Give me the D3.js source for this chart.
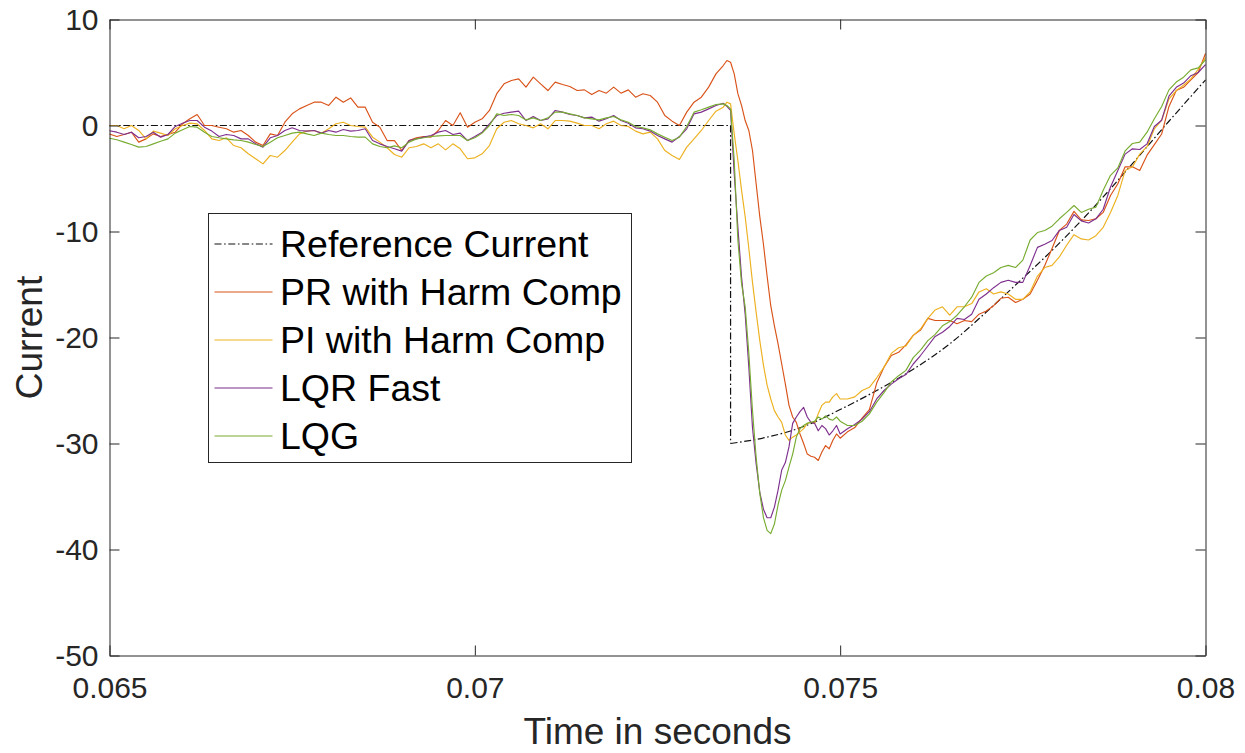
<!DOCTYPE html>
<html>
<head>
<meta charset="utf-8">
<script src="https://cdn.jsdelivr.net/npm/d3@7"></script>
<style>
  body { margin: 0; background: #fff; }
  svg { display: block; }
</style>
</head>
<body>
<div id="container"></div>
<script>
// sample times (s); finer spacing around the step at 0.0735
let time = [
  0.0650, 0.0651, 0.0652, 0.0653, 0.0654, 0.0655, 0.0656, 0.0657, 0.0658, 0.0659,
  0.0660, 0.0661, 0.0662, 0.0663, 0.0664, 0.0665, 0.0666, 0.0667, 0.0668, 0.0669,
  0.0670, 0.0671, 0.0672, 0.0673, 0.0674, 0.0675, 0.0676, 0.0677, 0.0678, 0.0679,
  0.0680, 0.0681, 0.0682, 0.0683, 0.0684, 0.0685, 0.0686, 0.0687, 0.0688, 0.0689,
  0.0690, 0.0691, 0.0692, 0.0693, 0.0694, 0.0695, 0.0696, 0.0697, 0.0698, 0.0699,
  0.0700, 0.0701, 0.0702, 0.0703, 0.0704, 0.0705, 0.0706, 0.0707, 0.0708, 0.0709,
  0.0710, 0.0711, 0.0712, 0.0713, 0.0714, 0.0715, 0.0716, 0.0717, 0.0718, 0.0719,
  0.0720, 0.0721, 0.0722, 0.0723, 0.0724, 0.0725, 0.0726, 0.0727, 0.0728, 0.0729,
  0.0730, 0.0731, 0.0732, 0.0733, 0.0734,
  0.07345, 0.0735, 0.07355, 0.0736, 0.07365, 0.0737, 0.07375, 0.0738, 0.07385, 0.0739,
  0.07395, 0.0740, 0.07405, 0.0741, 0.07415, 0.0742, 0.07425, 0.0743, 0.07435, 0.0744,
  0.07445, 0.0745, 0.07455, 0.0746, 0.07465, 0.0747, 0.07475, 0.0748, 0.07485, 0.0749,
  0.07495, 0.0750,
  0.0751, 0.0752, 0.0753, 0.0754, 0.0755, 0.0756, 0.0757, 0.0758, 0.0759, 0.0760,
  0.0761, 0.0762, 0.0763, 0.0764, 0.0765, 0.0766, 0.0767, 0.0768, 0.0769, 0.0770,
  0.0771, 0.0772, 0.0773, 0.0774, 0.0775, 0.0776, 0.0777, 0.0778, 0.0779, 0.0780,
  0.0781, 0.0782, 0.0783, 0.0784, 0.0785, 0.0786, 0.0787, 0.0788, 0.0789, 0.0790,
  0.0791, 0.0792, 0.0793, 0.0794, 0.0795, 0.0796, 0.0797, 0.0798, 0.0799, 0.0800
];

let prCurrent = [
  -0.8, -1.04, -0.85, -0.63, -1.57, -1.26, -0.79, -1.04, -0.85, -0.63,
  0.16, 0.63, 1.04, 0, 0, -0.16, -0.31, -0.63, -0.47, -0.94,
  -1.57, -1.89, -0.79, -0.94, 0.31, 1.1, 1.57, 1.89, 2.2, 2.2,
  1.89, 2.67, 2.2, 2.6, 1.73, 1.73, 0.31, -0.16, -1.42, -1.42,
  -2.36, -1.42, -1.16, -1.04, -1.1, -0.47, 0.47, 0, 1.2, -0.16,
  0.31, 0.63, 1.42, 3.0, 3.93, 4.25, 4.4, 3.62, 4.56, 3.93,
  3.3, 4.09, 3.87, 3.68, 3.3, 3.36, 2.92, 3.3, 3.05, 3.62,
  3.05, 3.36, 2.67, 2.99, 2.83, 2.2, 0.94, 0.41, 0, 1.26,
  2.2, 2.67, 3.62, 4.87, 5.66,
  6.13, 5.97, 4.87, 3.0, 1.9, 0.47, -0.47, -2.36, -5.5, -8.6,
  -11.2, -14.2, -17.0, -18.9, -20.6, -22.5, -24.4, -26.4, -27.5, -28.0,
  -29.1, -30.0, -31.0, -31.2, -31.3, -31.6, -30.8, -30.2, -30.5, -29.7,
  -29.1, -29.5,
  -28.9, -28.5, -27.6, -26.8, -24.3, -22.8, -21.7, -21.4, -20.7, -19.8,
  -19.3, -18.2, -18.4, -18.4, -18.4, -18.7, -18.4, -18.5, -17.8, -17.5,
  -17.0, -16.3, -16.2, -16.7, -16.4, -15.9, -14.6, -13.2, -11.6, -9.9,
  -9.3, -8.1, -8.9, -8.96, -8.8, -8.2, -6.6, -5.5, -3.9, -3.9,
  -4.25, -2.8, -1.8, -0.8, 1.8, 3.3, 3.6, 4.3, 5.0, 6.8
];

let piCurrent = [
  0, 0, -0.31, 0, -0.47, -1.26, -0.53, -0.72, -0.94, -0.31,
  0, 0.22, 0.16, -0.47, -1.26, -1.42, -1.16, -1.89, -2.1, -2.67,
  -3.14, -3.62, -2.83, -2.99, -2.36, -1.57, -0.79, -0.53, -0.47, -0.72,
  -0.31, 0.16, 0.31, 0, -0.09, -0.16, -1.1, -1.57, -2.1, -2.74,
  -2.99, -2.1, -1.98, -1.73, -2.1, -1.73, -2.3, -1.73, -2.2, -3.14,
  -3.05, -2.67, -1.89, -0.31, 0.31, 0.47, 0.16, 0, -0.22, 0.16,
  -0.31, 0.47, 0.47, 0.41, 0.22, 0, 0, -0.31, 0.16, 0.41,
  0, -0.09, -0.53, -0.79, -0.63, -1.26, -2.36, -2.83, -3.2, -2.04,
  -1.26, -0.47, 0.47, 1.35, 1.73,
  2.2, 2.04, -0.79, -3.3, -6.1, -8.6, -11.6, -14.8, -17.6, -20.3,
  -22.6, -24.5, -25.8, -26.9, -27.5, -28.0, -29.2, -29.7, -29.4, -29.2,
  -28.9, -28.6, -28.1, -28.0, -28.1, -27.2, -26.4, -26.1, -26.1, -25.6,
  -25.3, -25.8,
  -25.8, -25.6, -25.0, -24.7, -23.8, -22.8, -21.5, -20.97, -20.8, -19.8,
  -19.2, -18.2, -17.4, -17.1, -17.9, -17.1, -17.1, -16.8, -15.7, -15.4,
  -15.9, -15.7, -15.9, -16.4, -16.4, -15.7, -14.2, -13.4, -13.2, -12.4,
  -11.3, -10.3, -10.7, -10.8, -10.4, -9.6, -8.2, -6.6, -4.25, -3.9,
  -2.7, -2.0, -0.31, 0.5, 2.5, 3.3, 3.8, 4.4, 5.3, 6.4
];

let lqrCurrent = [
  -0.5, -0.63, -0.85, -0.63, -1.16, -1.04, -0.63, -1.1, -0.85, -0.09,
  0.22, 0.47, 0.47, -0.16, -0.53, -1.04, -0.85, -0.94, -1.26, -1.26,
  -1.73, -2.04, -1.16, -0.94, -0.47, -0.22, -0.47, -0.53, -0.47, -0.72,
  -0.47, -0.63, -0.38, -0.53, -0.47, -0.31, -1.42, -1.73, -1.98, -2.2,
  -2.42, -1.42, -1.26, -1.1, -0.94, -0.63, -0.47, -0.85, -0.72, -1.42,
  -1.04, -0.63, 0.16, 0.94, 1.16, 1.26, 1.35, 0.47, 0.85, 0.47,
  0.63, 1.42, 1.26, 1.04, 0.94, 0.72, 0.79, 0.41, 0.63, 0.94,
  0.47, 0.22, -0.22, -0.31, -0.53, -0.94, -1.26, -1.57, -1.04, -0.31,
  1.1, 1.26, 1.57, 1.89, 2.1,
  1.8, 1.42, -4.56, -9.6, -14.3, -17.8, -22.8, -28.5, -31.9, -34.6,
  -36.2, -37.0, -37.0, -36.0, -34.4, -32.5, -31.8, -30.3, -28.1, -27.5,
  -27.0, -26.6, -27.5, -28.0, -28.1, -28.8, -28.3, -28.6, -29.2, -28.8,
  -28.3, -29.1,
  -28.6, -28.2, -27.7, -27.0, -25.8, -25.0, -24.4, -23.9, -23.5, -22.5,
  -21.7, -20.8, -19.9, -19.5, -18.96, -18.2, -18.3, -17.8, -16.4, -15.9,
  -15.3, -14.8, -14.6, -14.8, -14.8, -13.2, -11.5, -11.2, -10.85, -9.9,
  -9.6, -8.4, -9.0, -9.2, -8.8, -7.9, -5.8, -4.25, -2.7, -2.2,
  -2.26, -1.73, -0.09, 0.5, 2.77, 3.6, 4.0, 4.7, 5.0, 5.75
];

let lqgCurrent = [
  -1.2, -1.35, -1.57, -1.79, -2.04, -1.98, -1.73, -1.48, -1.26, -0.72,
  -0.41, -0.09, -0.16, -0.63, -1.04, -1.16, -1.26, -1.35, -1.42, -1.57,
  -1.79, -1.98, -1.57, -1.16, -0.94, -0.72, -0.63, -0.79, -0.94, -0.72,
  -0.85, -0.94, -0.94, -1.04, -1.1, -1.1, -1.73, -1.98, -2.1, -1.92,
  -2.1, -1.57, -1.26, -1.16, -1.04, -0.98, -0.94, -0.94, -0.94, -1.42,
  -1.16, -0.72, 0, 1.1, 0.94, 1.04, 0.94, 0.53, 0.72, 0.47,
  0.72, 1.26, 1.26, 1.1, 0.94, 0.72, 0.63, 0.53, 0.72, 0.85,
  0.53, 0.31, -0.09, -0.22, -0.41, -0.79, -1.1, -1.42, -1.1, -0.09,
  1.26, 1.48, 1.73, 1.98, 2.04,
  1.89, 1.57, -3.3, -10.8, -14.9, -17.1, -21.5, -26.9, -31.3, -34.7,
  -37.0, -38.2, -38.5, -37.6, -35.8, -34.4, -33.5, -32.2, -31.0, -29.4,
  -28.6, -28.3, -28.1, -28.0, -27.9, -27.5, -27.7, -27.4, -27.7, -27.8,
  -27.5, -27.9,
  -28.3, -28.3, -27.9, -27.2, -26.1, -25.2, -24.2, -23.6, -23.1, -21.9,
  -21.2, -20.3, -19.7, -18.9, -18.5, -17.9, -17.1, -16.2, -14.8, -14.2,
  -13.9, -13.4, -13.2, -13.4, -12.7, -10.8, -10.1, -9.9, -9.5, -8.8,
  -8.2, -7.55, -8.2, -7.9, -7.7, -6.1, -4.7, -4.0, -2.4, -1.7,
  -1.57, -0.63, 0.63, 1.8, 3.36, 4.1, 4.56, 5.25, 5.44, 6.2
];

// reference: flat at 0, steps to -30 at 0.0735, then rises smoothly
let refStepTime = [0.065, 0.0735, 0.0735];
let refStepCurrent = [0, 0, -30];
let refTime = [0.0735, 0.074, 0.0745, 0.075, 0.0755, 0.076, 0.0765,
  0.077, 0.0775, 0.078, 0.0785, 0.079, 0.0795, 0.08];
let refCurrent = [-30, -29.4, -28.4, -26.8, -25.0, -23.0, -20.6,
  -17.6, -14.4, -11.1, -7.5, -3.6, 0.4, 4.3];

let xTicks = [0.065, 0.07, 0.075, 0.08];
let xTickLabels = ["0.065", "0.07", "0.075", "0.08"];
let yTicks = [-50, -40, -30, -20, -10, 0, 10];

let legendNames = ["Reference Current", "PR with Harm Comp", "PI with Harm Comp", "LQR Fast", "LQG"];
let colors = ["#000000", "#D95319", "#EDB120", "#7E2F8E", "#77AC30"];

let width = 1245, height = 753;
let axisColor = "#262626";
let font = "'Liberation Sans', Arial, Helvetica, sans-serif";
let refDash = "7,2.6,1.6,2.6";

let svg = d3.select("#container").append("svg")
  .attr("width", width)
  .attr("height", height)
  .style("background", "#fff");

let x = d3.scaleLinear().domain([0.065, 0.08]).range([109.5, 1205.5]);
let y = d3.scaleLinear().domain([-50, 10]).range([655.5, 19.5]);

let line = d3.line().x(d => x(d[0])).y(d => y(d[1]));
let smoothLine = d3.line().x(d => x(d[0])).y(d => y(d[1])).curve(d3.curveMonotoneX);

// reference first so the controllers draw over it
svg.append("path")
  .attr("d", line(refStepTime.map((t, i) => [t, refStepCurrent[i]])))
  .attr("fill", "none")
  .attr("stroke", "#111")
  .attr("stroke-width", 1.2)
  .attr("stroke-dasharray", refDash);

svg.append("path")
  .attr("d", smoothLine(refTime.map((t, i) => [t, refCurrent[i]])))
  .attr("fill", "none")
  .attr("stroke", "#111")
  .attr("stroke-width", 1.2)
  .attr("stroke-dasharray", refDash);

let series = [prCurrent, piCurrent, lqrCurrent, lqgCurrent];
series.forEach((vals, s) => {
  if (vals.length !== time.length) console.log("length mismatch", s, vals.length, time.length);
  svg.append("path")
    .attr("d", line(time.map((t, i) => [t, vals[i]])))
    .attr("fill", "none")
    .attr("stroke", colors[s + 1])
    .attr("stroke-width", 1.15)
    .attr("stroke-linejoin", "round");
});

// axes, ticks pointing inward on all four sides
let styleAxis = (g, fs) => {
  g.select(".domain").attr("stroke", axisColor).attr("stroke-width", 1);
  g.selectAll(".tick line").attr("stroke", axisColor).attr("stroke-width", 1);
  g.selectAll("text")
    .attr("fill", axisColor)
    .style("font-family", font)
    .style("font-size", fs + "px");
};

svg.append("g")
  .attr("transform", `translate(0,${y(-50)})`)
  .call(d3.axisBottom(x).tickValues(xTicks).tickFormat((d, i) => xTickLabels[i])
    .tickSizeInner(-10).tickSizeOuter(0).tickPadding(21))
  .call(g => styleAxis(g, 30));

svg.append("g")
  .attr("transform", `translate(0,${y(10)})`)
  .call(d3.axisTop(x).tickValues(xTicks).tickFormat("")
    .tickSizeInner(-10).tickSizeOuter(0))
  .call(g => styleAxis(g, 30));

svg.append("g")
  .attr("transform", `translate(${x(0.065)},0)`)
  .call(d3.axisLeft(y).tickValues(yTicks).tickFormat(d => String(d))
    .tickSizeInner(-10).tickSizeOuter(0).tickPadding(11))
  .call(g => styleAxis(g, 30));

svg.append("g")
  .attr("transform", `translate(${x(0.08)},0)`)
  .call(d3.axisRight(y).tickValues(yTicks).tickFormat("")
    .tickSizeInner(-10).tickSizeOuter(0))
  .call(g => styleAxis(g, 30));

svg.append("text")
  .attr("x", (x(0.065) + x(0.08)) / 2)
  .attr("y", 744)
  .attr("text-anchor", "middle")
  .attr("fill", axisColor)
  .style("font-family", font)
  .style("font-size", "37px")
  .text("Time in seconds");

svg.append("text")
  .attr("transform", `translate(42,${(y(-50) + y(10)) / 2}) rotate(-90)`)
  .attr("text-anchor", "middle")
  .attr("fill", axisColor)
  .style("font-family", font)
  .style("font-size", "37px")
  .text("Current");

// legend
let legend = svg.append("g").attr("transform", "translate(208.5,213.5)");
legend.append("rect")
  .attr("width", 423)
  .attr("height", 249)
  .attr("fill", "#fff")
  .attr("stroke", axisColor)
  .attr("stroke-width", 1);

legendNames.forEach((name, i) => {
  let cy = 30.5 + i * 48;
  legend.append("line")
    .attr("x1", 6).attr("x2", 64)
    .attr("y1", cy).attr("y2", cy)
    .attr("stroke", i === 0 ? "#111" : colors[i])
    .attr("stroke-width", i === 0 ? 1.2 : 1.15)
    .attr("stroke-dasharray", i === 0 ? refDash : null);
  legend.append("text")
    .attr("x", 71.5)
    .attr("y", cy)
    .attr("dy", "0.35em")
    .attr("fill", "#000")
    .style("font-family", font)
    .style("font-size", "37.5px")
    .text(name);
});
</script>
</body>
</html>
